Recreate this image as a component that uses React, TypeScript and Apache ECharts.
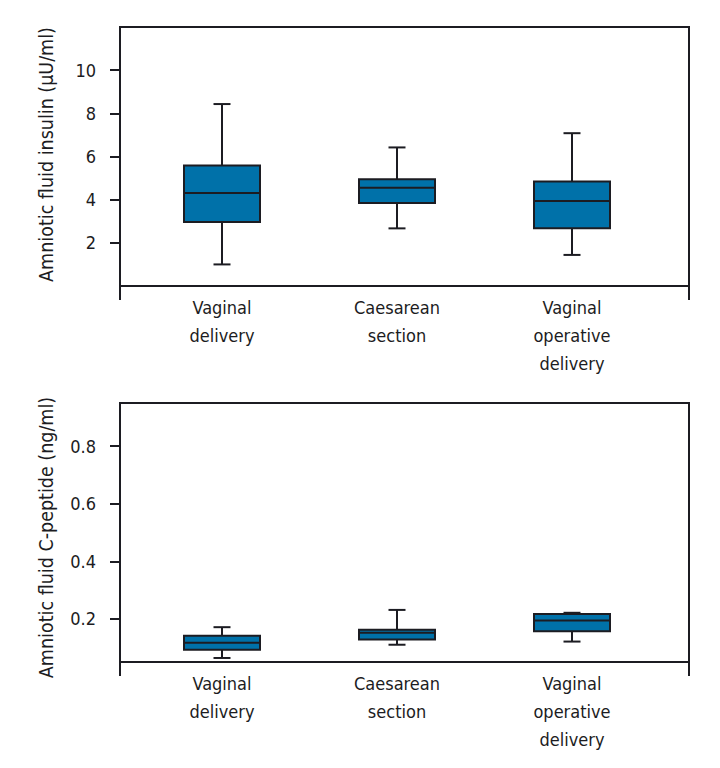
import React, { useEffect, useRef } from "react";
import * as echarts from "echarts";

const categories = ["Vaginal\ndelivery", "Caesarean\nsection", "Vaginal\noperative\ndelivery"];

const insulinMin = [1.0, 2.67, 1.44];
const insulinQ1 = [2.97, 3.84, 2.67];
const insulinMedian = [4.31, 4.55, 3.94];
const insulinQ3 = [5.58, 4.95, 4.84];
const insulinMax = [8.43, 6.42, 7.08];

const cpepMin = [0.064, 0.11, 0.121];
const cpepQ1 = [0.093, 0.128, 0.157];
const cpepMedian = [0.117, 0.152, 0.194];
const cpepQ3 = [0.141, 0.162, 0.217];
const cpepMax = [0.171, 0.231, 0.221];

const insulinTicks = [2, 4, 6, 8, 10];
const cpepTicks = [0.2, 0.4, 0.6, 0.8];

const FONT = "'Liberation Sans Narrow', 'DejaVu Sans Condensed', 'Noto Sans', sans-serif";
const INK = "#1c1c22";
const FILL = "#0071a9";

const renderBox = (params: any, api: any) => {
  const x = api.value(0);
  const pMin = api.coord([x, api.value(1)]);
  const cx = pMin[0];
  const yMin = pMin[1];
  const yQ1 = api.coord([x, api.value(2)])[1];
  const yMed = api.coord([x, api.value(3)])[1];
  const yQ3 = api.coord([x, api.value(4)])[1];
  const yMax = api.coord([x, api.value(5)])[1];
  const half = 38;
  const cap = 8.5;
  const ls = { stroke: INK, lineWidth: 2 };
  return {
    type: "group",
    children: [
      { type: "line", shape: { x1: cx, y1: yMax, x2: cx, y2: yQ3 }, style: ls },
      { type: "line", shape: { x1: cx, y1: yQ1, x2: cx, y2: yMin }, style: ls },
      { type: "line", shape: { x1: cx - cap, y1: yMax, x2: cx + cap, y2: yMax }, style: ls },
      { type: "line", shape: { x1: cx - cap, y1: yMin, x2: cx + cap, y2: yMin }, style: ls },
      {
        type: "rect",
        shape: { x: cx - half, y: yQ3, width: 2 * half, height: yQ1 - yQ3 },
        style: { fill: FILL, stroke: INK, lineWidth: 2 },
      },
      { type: "line", shape: { x1: cx - half, y1: yMed, x2: cx + half, y2: yMed }, style: ls },
    ],
  };
};

const build = (mins: number[], q1: number[], med: number[], q3: number[], maxs: number[]) =>
  categories.map((_, i) => [i, mins[i], q1[i], med[i], q3[i], maxs[i]]);

export default function App() {
  const ref = useRef<HTMLDivElement>(null);
  useEffect(() => {
    document.body.style.margin = "0";
    if (!ref.current) return;
    const chart = echarts.init(ref.current, null, { renderer: "svg" });
    const axisLine = { show: true, lineStyle: { color: INK, width: 2 } };
    const frameGrid = (top: number) => ({
      left: 120,
      width: 569,
      top,
      height: 259,
      show: true,
      borderColor: INK,
      borderWidth: 2,
      backgroundColor: "transparent",
    });
    const dataGrid = (top: number) => ({ left: 134.5, width: 525, top, height: 259 });
    const frameX = (gridIndex: number) => ({
      type: "category",
      gridIndex,
      data: [""],
      axisLine,
      axisTick: { show: true, length: 14, interval: 0, lineStyle: { color: INK, width: 2 } },
      axisLabel: { show: false },
      splitLine: { show: false },
    });
    const frameY = (gridIndex: number, min: number, max: number, ticks: number[], name: string, pad: number[]) => ({
      type: "value",
      gridIndex,
      min,
      max,
      name,
      nameLocation: "middle",
      nameGap: 64,
      nameTextStyle: { fontFamily: FONT, fontSize: 19.5, color: INK, padding: pad },
      axisLine,
      axisTick: { show: true, length: 10, customValues: ticks, lineStyle: { color: INK, width: 2 } },
      axisLabel: { show: true, customValues: ticks, margin: 24, fontFamily: FONT, fontSize: 18, color: INK },
      splitLine: { show: false },
    });
    const dataX = (gridIndex: number) => ({
      type: "category",
      gridIndex,
      data: categories,
      axisLine: { show: false },
      axisTick: { show: false },
      axisLabel: { show: true, interval: 0, margin: 7, fontFamily: FONT, fontSize: 18, lineHeight: 28, color: INK },
      splitLine: { show: false },
    });
    const dataY = (gridIndex: number, min: number, max: number) => ({
      type: "value",
      gridIndex,
      min,
      max,
      show: false,
      splitLine: { show: false },
    });
    chart.setOption({
      animation: false,
      backgroundColor: "#ffffff",
      grid: [frameGrid(27), dataGrid(27), frameGrid(403), dataGrid(403)],
      xAxis: [frameX(0), dataX(1), frameX(2), dataX(3)],
      yAxis: [
        frameY(0, 0, 12, insulinTicks, "Amniotic fluid insulin (µU/ml)", [0, 0, 0, 4]),
        dataY(1, 0, 12),
        frameY(2, 0.05, 0.95, cpepTicks, "Amniotic fluid C-peptide (ng/ml)", [0, 10, 0, 0]),
        dataY(3, 0.05, 0.95),
      ],
      series: [
        {
          type: "custom",
          xAxisIndex: 1,
          yAxisIndex: 1,
          renderItem: renderBox,
          encode: { x: 0, y: [1, 2, 3, 4, 5] },
          data: build(insulinMin, insulinQ1, insulinMedian, insulinQ3, insulinMax),
        },
        {
          type: "custom",
          xAxisIndex: 3,
          yAxisIndex: 3,
          renderItem: renderBox,
          encode: { x: 0, y: [1, 2, 3, 4, 5] },
          data: build(cpepMin, cpepQ1, cpepMedian, cpepQ3, cpepMax),
        },
      ],
    });
    return () => chart.dispose();
  }, []);
  return <div ref={ref} style={{ width: 720, height: 768 }} />;
}
